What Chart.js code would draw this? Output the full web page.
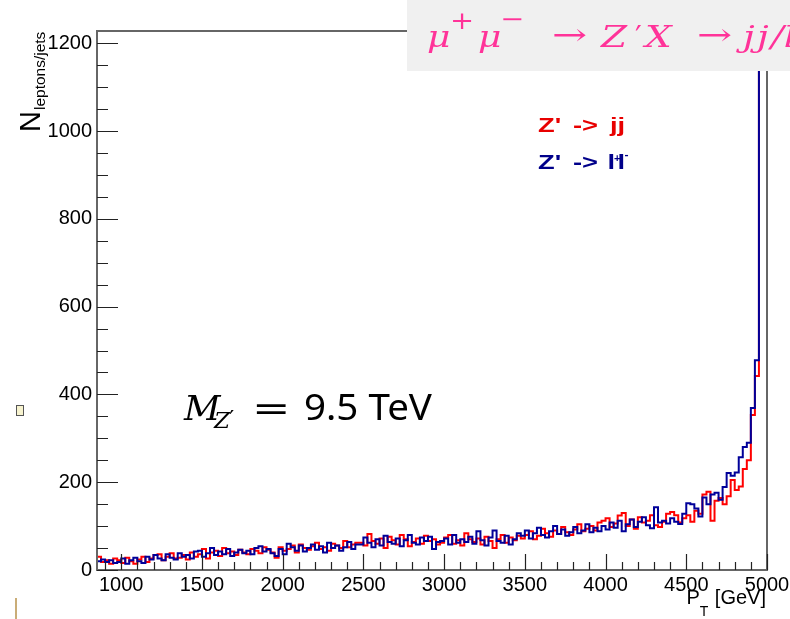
<!DOCTYPE html>
<html>
<head>
<meta charset="utf-8">
<script src="https://cdn.jsdelivr.net/npm/chart.js@4.4.1/dist/chart.umd.min.js"></script>
<style>
    html, body { margin: 0; padding: 0; background: #fff; }
    #wrap { position: relative; width: 790px; height: 619px; overflow: hidden; }
</style>
</head>
<body>
<div id="wrap"><canvas id="chart-pt" width="790" height="619"></canvas></div>
<script>
// histogram bins : 25 GeV, from 850 to 5000
const binStart = 850
const binWidth = 25
const ptMax = 5000
const yMax = 1228

// Z' -> jj (red)
const jj_counts = [
    24, 30, 18, 22, 14, 26,
    22, 16, 28, 20, 14, 24, 30, 18, 26, 34, 36, 22, 30, 38, 26, 28, 34, 24, 40, 30,
    36, 48, 26, 40, 44, 32, 50, 38, 42, 34, 46, 40, 36, 48, 44, 38, 52, 46, 40, 28,
    52, 44, 48, 56, 40, 58, 50, 46, 54, 62, 48, 52, 44, 60, 56, 50, 66, 52, 58, 62,
    62, 56, 82, 66, 60, 72, 50, 76, 68, 58, 80, 70, 54, 64, 72, 60, 78, 66, 70, 58,
    62, 74, 80, 60, 68, 56, 84, 70, 64, 72, 58, 76, 66, 50, 70, 80, 62, 74, 68, 78,
    72, 80, 88, 70, 78, 94, 84, 76, 90, 82, 98, 86, 80, 92, 104, 88, 94, 100, 90, 108,
    112, 118, 98, 106, 124, 130, 100, 115, 94, 120, 108, 112, 125, 102, 98, 110, 128, 132, 125, 108,
    118, 125, 110, 135, 128, 172, 178, 112, 158, 164, 150, 168, 205, 182, 190, 230, 250, 353, 442, 2600
]

// Z' -> l+l- (blue)
const ll_counts = [
    28, 20, 24, 18, 22, 16,
    18, 26, 14, 22, 28, 20, 16, 30, 24, 34, 26, 22, 36, 28, 24, 38, 30, 34, 26, 42,
    44, 30, 38, 50, 34, 42, 36, 48, 32, 40, 46, 38, 44, 36, 50, 54, 42, 48, 38, 32,
    48, 36, 60, 52, 44, 56, 42, 50, 58, 46, 54, 40, 62, 50, 56, 44, 52, 64, 48, 58,
    58, 74, 62, 52, 70, 56, 78, 64, 60, 72, 54, 68, 80, 62, 58, 74, 66, 76, 48, 64,
    66, 72, 58, 80, 62, 70, 64, 76, 60, 88, 68, 56, 74, 90, 66, 62, 78, 58, 70, 84,
    78, 90, 72, 84, 96, 80, 74, 88, 100, 82, 92, 78, 86, 98, 84, 90, 104, 86, 96, 88,
    100, 92, 108, 96, 112, 88, 104, 115, 98, 110, 120, 102, 95, 143, 108, 112, 106, 118, 110, 105,
    128, 152, 150, 140, 122, 165, 150, 172, 176, 160, 189, 221, 215, 222, 257, 280, 290, 369, 478, 2600
]

const xTicks = [1000, 1500, 2000, 2500, 3000, 3500, 4000, 4500, 5000]
const yTicks = [0, 200, 400, 600, 800, 1000, 1200]

const sans = "'Liberation Sans', Arial, sans-serif"
const serif = "'DejaVu Serif', serif"

function histoPoints(counts) {
    let pts = []
    counts.forEach(function (c, i) {
        pts.push({x: binStart + i * binWidth, y: c})
    })
    pts.push({x: ptMax, y: counts[counts.length - 1]})
    pts.push({x: ptMax, y: 0})
    return pts
}

// text stretched horizontally
function wideText(ctx, txt, x, y, sx) {
    ctx.save()
    ctx.translate(x, y)
    ctx.scale(sx, 1)
    ctx.fillText(txt, 0, 0)
    ctx.restore()
}

// ____ frame, inner ticks, titles and the slide overlays ____
const rootFrame = {
    id: 'rootFrame',
    afterDraw(chart) {
        const ctx = chart.ctx
        const a = chart.chartArea
        const xs = chart.scales.x
        const ys = chart.scales.y

        ctx.save()
        ctx.strokeStyle = '#666'
        ctx.lineWidth = 2
        ctx.strokeRect(a.left, a.top, a.right - a.left, a.bottom - a.top)

        ctx.strokeStyle = '#222'
        ctx.lineWidth = 1.2
        ctx.beginPath()
        for (let v = 900; v <= ptMax; v += 100) {
            let px = Math.round(xs.getPixelForValue(v)) + 0.5
            let len = (v % 500 === 0) ? 16 : 8
            ctx.moveTo(px, a.bottom)
            ctx.lineTo(px, a.bottom - len)
        }
        for (let v = 0; v <= yMax; v += 50) {
            let py = Math.round(ys.getPixelForValue(v)) + 0.5
            let len = (v % 200 === 0) ? 21 : 11
            ctx.moveTo(a.left, py)
            ctx.lineTo(a.left + len, py)
        }
        ctx.stroke()

        // y title
        ctx.fillStyle = '#000'
        ctx.textBaseline = 'alphabetic'
        ctx.textAlign = 'left'
        ctx.save()
        ctx.translate(40, 132)
        ctx.rotate(-Math.PI / 2)
        ctx.font = '29px ' + sans
        ctx.fillText('N', 0, 0)
        let wN = ctx.measureText('N').width
        ctx.font = '15.5px ' + sans
        ctx.fillText('leptons/jets', wN + 1, 5)
        ctx.restore()

        // x title
        ctx.font = '20px ' + sans
        let wG = ctx.measureText(' [GeV]').width
        let wP = ctx.measureText('P').width
        ctx.font = '14px ' + sans
        let wT = ctx.measureText('T').width
        let x0 = a.right - wG - wT - wP - 2
        ctx.font = '20px ' + sans
        ctx.fillText('P', x0, 604)
        ctx.fillText(' [GeV]', x0 + wP + wT + 1, 604)
        ctx.font = '14px ' + sans
        ctx.fillText('T', x0 + wP, 616)

        // legend
        ctx.font = 'bold 21px ' + sans
        ctx.fillStyle = '#e80000'
        wideText(ctx, "Z'", 538, 132, 1.3)
        wideText(ctx, '->', 573, 132, 1.3)
        wideText(ctx, 'jj', 610, 132, 1.3)
        ctx.fillStyle = '#00008a'
        wideText(ctx, "Z'", 538, 169, 1.3)
        wideText(ctx, '->', 573, 169, 1.3)
        wideText(ctx, 'l', 607.5, 169, 1.3)
        wideText(ctx, 'l', 617.5, 169, 1.3)
        ctx.font = 'bold 11px ' + sans
        wideText(ctx, '+', 614, 162, 1.0)
        wideText(ctx, '-', 624.5, 158, 1.1)

        // slide title box
        ctx.fillStyle = '#f0f0f0'
        ctx.fillRect(407, 0, 383, 71)
        ctx.fillStyle = '#ff3399'
        ctx.font = 'italic 30px ' + serif
        wideText(ctx, '\u03bc', 427, 47, 1.2)
        wideText(ctx, '\u03bc', 478, 47, 1.2)
        wideText(ctx, 'Z', 601, 47, 1.25)
        wideText(ctx, 'X', 645, 47, 1.25)
        wideText(ctx, 'j', 743, 47, 1.25)
        wideText(ctx, 'j', 757, 47, 1.25)
        wideText(ctx, '/l', 771, 47, 1.25)
        ctx.font = '24px ' + serif
        wideText(ctx, '+', 450, 29, 1.2)
        wideText(ctx, '\u2212', 500, 27, 1.2)
        ctx.font = '30px ' + serif
        ctx.fillText('\u2032', 635, 47)
        wideText(ctx, '\u2192', 552, 45, 1.4)
        wideText(ctx, '\u2192', 697, 45, 1.4)

        // mass label
        ctx.fillStyle = '#000'
        ctx.font = 'italic 34px ' + serif
        wideText(ctx, 'M', 184, 420, 1.05)
        ctx.font = 'italic 23px ' + serif
        ctx.fillText('Z', 214, 428)
        ctx.font = '23px ' + serif
        ctx.fillText('\u2032', 229, 426)
        ctx.font = '34px ' + serif
        wideText(ctx, '=', 252, 420, 1.35)
        ctx.font = "36px 'Noto Sans', sans-serif"
        wideText(ctx, '9.5 TeV', 304, 420, 1.07)

        // bits of the slide at the left border
        ctx.fillStyle = '#f7f3cf'
        ctx.fillRect(16, 405, 8, 11)
        ctx.strokeStyle = '#555'
        ctx.lineWidth = 1
        ctx.strokeRect(16.5, 405.5, 7, 10)
        ctx.strokeStyle = '#b8924a'
        ctx.lineWidth = 1.5
        ctx.beginPath()
        ctx.moveTo(16, 598)
        ctx.lineTo(16, 619)
        ctx.stroke()

        ctx.restore()
    }
}

new Chart(
    document.getElementById('chart-pt'),
    {
        type: 'line',
        data: {
            datasets: [
                {
                    label: "Z' -> l+l-",
                    data: histoPoints(ll_counts),
                    borderColor: '#000099',
                    borderWidth: 2,
                    stepped: 'after',
                    pointRadius: 0,
                    fill: false,
                    order: 0
                },
                {
                    label: "Z' -> jj",
                    data: histoPoints(jj_counts),
                    borderColor: '#ff0000',
                    borderWidth: 2,
                    stepped: 'after',
                    pointRadius: 0,
                    fill: false,
                    order: 1
                }
            ]
        },
        options: {
            responsive: false,
            animation: false,
            layout: { padding: { left: 0, right: 23, top: 31, bottom: 0 } },
            plugins: {
                legend: { display: false },
                tooltip: { enabled: false }
            },
            scales: {
                x: {
                    type: 'linear',
                    min: binStart,
                    max: ptMax,
                    grid: { display: false, drawTicks: false },
                    border: { display: false },
                    afterBuildTicks: function (s) { s.ticks = xTicks.map(v => ({value: v})) },
                    afterFit: function (s) {
                        s.height = 49
                        s.paddingLeft = 0
                        s.paddingRight = 0
                    },
                    ticks: {
                        font: { family: sans, size: 20 },
                        color: '#000',
                        padding: 3,
                        maxRotation: 0,
                        autoSkip: false,
                        callback: v => String(v)
                    }
                },
                y: {
                    min: 0,
                    max: yMax,
                    grid: { display: false, drawTicks: false },
                    border: { display: false },
                    afterBuildTicks: function (s) { s.ticks = yTicks.map(v => ({value: v})) },
                    afterFit: function (s) {
                        s.width = 97
                        s.paddingTop = 0
                        s.paddingBottom = 0
                    },
                    ticks: {
                        font: { family: sans, size: 20 },
                        color: '#000',
                        padding: 5,
                        autoSkip: false,
                        callback: v => String(v)
                    }
                }
            }
        },
        plugins: [rootFrame]
    }
);
</script>
</body>
</html>
